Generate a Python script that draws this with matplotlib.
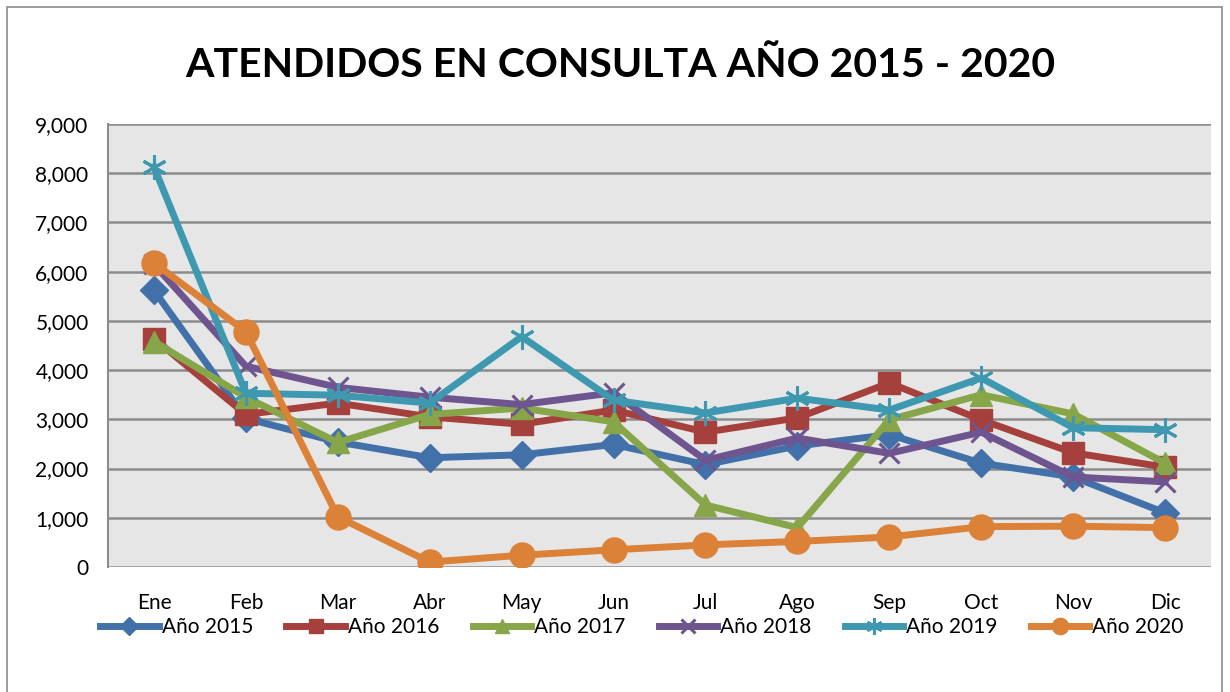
import matplotlib
matplotlib.use("Agg")
import matplotlib.pyplot as plt
from matplotlib.patches import Rectangle
from matplotlib.ticker import FuncFormatter

plt.rcParams['font.family'] = ['Lato', 'DejaVu Sans']

meses = ['Ene', 'Feb', 'Mar', 'Abr', 'May', 'Jun', 'Jul', 'Ago', 'Sep', 'Oct', 'Nov', 'Dic']

anio_2015 = [5620, 3020, 2540, 2220, 2280, 2490, 2080, 2460, 2690, 2110, 1830, 1100]
anio_2016 = [4640, 3100, 3330, 3050, 2900, 3190, 2740, 3030, 3740, 2990, 2320, 2030]
anio_2017 = [4580, 3450, 2530, 3100, 3230, 2950, 1260, 800, 2990, 3500, 3110, 2110]
anio_2018 = [6150, 4080, 3650, 3450, 3300, 3540, 2170, 2620, 2310, 2740, 1830, 1730]
anio_2019 = [8130, 3530, 3490, 3330, 4680, 3390, 3130, 3430, 3190, 3840, 2830, 2790]
anio_2020 = [6180, 4780, 1020, 100, 240, 350, 450, 520, 610, 820, 830, 800]

series = [
    ('Año 2015', anio_2015, '#4271AA', 'D', 14),
    ('Año 2016', anio_2016, '#A6403C', 's', 16),
    ('Año 2017', anio_2017, '#87A64A', '^', 16),
    ('Año 2018', anio_2018, '#6E558F', 'x', 15),
    ('Año 2019', anio_2019, '#3E98B0', (6, 2, 0), 18),
    ('Año 2020', anio_2020, '#DC8138', 'o', 18),
]

fig = plt.figure(figsize=(12.3, 6.92), dpi=100)
ax = fig.add_axes([0.0878, 0.1806, 0.8968, 0.6402])
ax.set_facecolor('#E6E6E6')

x = list(range(len(meses)))
for nombre, vals, color, mk, ms in series:
    if mk == 'x' or isinstance(mk, tuple):
        ax.plot(x, vals, color=color, lw=5, marker=mk, ms=ms, mew=2.2,
                mec=color, label=nombre, solid_joinstyle='round')
    else:
        ax.plot(x, vals, color=color, lw=5, marker=mk, ms=ms, mec=color,
                label=nombre, solid_joinstyle='round')

ax.set_xlim(-0.5, 11.5)
ax.set_ylim(0, 9000)
ax.set_yticks(range(0, 9001, 1000))
ax.yaxis.set_major_formatter(FuncFormatter(lambda v, p: f'{int(v):,}'))
ax.set_xticks(x)
ax.set_xticklabels(meses)
ax.grid(axis='y', color='#8C8C8C', lw=1.8)
ax.set_axisbelow(True)
for s in ['top', 'right', 'bottom']:
    ax.spines[s].set_visible(False)
ax.spines['left'].set_color('#8C8C8C')
ax.spines['left'].set_linewidth(1.5)
ax.tick_params(axis='y', labelsize=15, length=0, pad=14)
ax.tick_params(axis='x', labelsize=15, length=0, pad=19)

fig.text(0.504, 0.905, 'ATENDIDOS EN CONSULTA AÑO 2015 - 2020', ha='center',
         va='center', fontsize=29.5, fontweight='bold')

fig.legend(loc='center', bbox_to_anchor=(0.522, 0.094), ncol=6, frameon=False,
           fontsize=15, handlelength=2.8, handletextpad=0.15, columnspacing=1.6,
           markerscale=0.65)

fig.patches.append(Rectangle((7 / 1230, -0.01), 1215 / 1230, 1 - 7 / 692 + 0.01,
                             transform=fig.transFigure, fill=False,
                             edgecolor='#8C8C8C', lw=1.2))

fig.savefig('out.png', dpi=100, facecolor='white')
